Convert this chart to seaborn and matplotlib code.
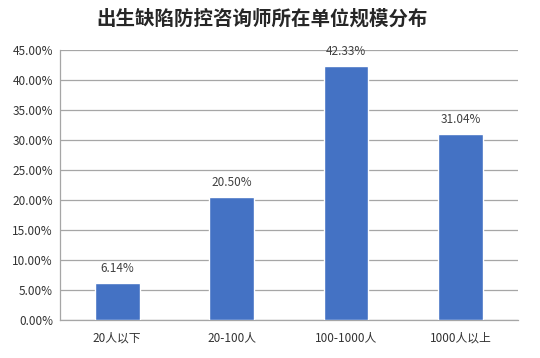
import matplotlib
matplotlib.use("Agg")
import matplotlib.pyplot as plt
import seaborn as sns
import pandas as pd

# chart data
categories = ['20人以下', '20-100人', '100-1000人', '1000人以上']
shares = [6.14, 20.50, 42.33, 31.04]
yticks = [0, 5, 10, 15, 20, 25, 30, 35, 40, 45]

df = pd.DataFrame({'category': categories, 'share': shares})

sns.set_theme(style='white')
plt.rcParams['font.family'] = ['Noto Sans CJK SC', 'DejaVu Sans']

fig = plt.figure(figsize=(5.4, 3.58), dpi=100)
ax = fig.add_axes([0.111, 0.106, 0.848, 0.754])

sns.barplot(data=df, x='category', y='share', color='#4472C4', saturation=1,
            width=0.39, ax=ax, zorder=3)

ax.set_ylim(0, 45)
ax.set_yticks(yticks)
ax.set_yticklabels([f'{v:.2f}%' for v in yticks], fontsize=8.5, color='#333333')
ax.set_xticks(range(len(categories)))
ax.set_xticklabels(categories, fontsize=8.5, color='#333333')
ax.set_xlabel('')
ax.set_ylabel('')
ax.tick_params(axis='x', length=0, pad=8)
ax.tick_params(axis='y', length=0, pad=5)
ax.grid(axis='y', color='#a6a6a6', linewidth=0.9, zorder=0)

for s in ['top', 'right']:
    ax.spines[s].set_visible(False)
for s in ['left', 'bottom']:
    ax.spines[s].set_color('#a6a6a6')
    ax.spines[s].set_linewidth(0.9)

for i, v in enumerate(shares):
    ax.annotate(f'{v:.2f}%', (i, v), xytext=(0, 6), textcoords='offset points',
                ha='center', va='bottom', fontsize=8.5, color='#404040')

fig.suptitle('出生缺陷防控咨询师所在单位规模分布', x=0.485, y=0.975,
             fontsize=14, fontweight='bold')

fig.savefig('out.png', dpi=100)
